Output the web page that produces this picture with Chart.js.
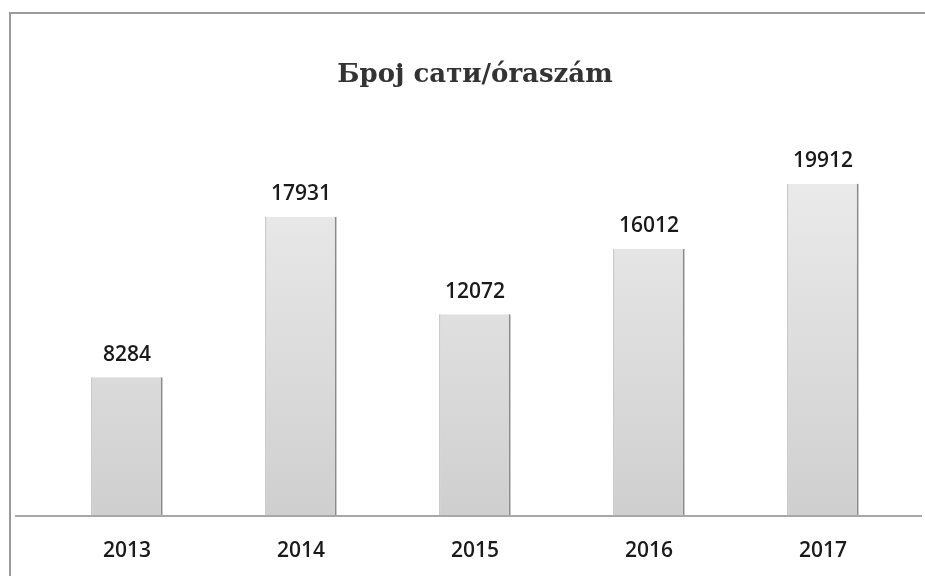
<!DOCTYPE html>
<html>
<head>
<meta charset="utf-8">
<script src="https://cdn.jsdelivr.net/npm/chart.js@4"></script>
<style>
  html, body { margin: 0; padding: 0; background: #fff; }
  #wrap { width: 925px; height: 576px; }
</style>
</head>
<body>
<div id="wrap"><canvas id="myChart"></canvas></div>
<script>
const years = ["2013", "2014", "2015", "2016", "2017"];
const hours = [8284, 17931, 12072, 16012, 19912];
const chartTitle = "Број сати/óraszám";

// labels over bars + long base line + scanned frame
const extras = {
    id: "extras",
    beforeDraw(chart) {
        const ctx = chart.ctx;
        ctx.save();
        ctx.fillStyle = "#fff";
        ctx.fillRect(0, 0, chart.width, chart.height);
        ctx.strokeStyle = "#9a9a9a";
        ctx.lineWidth = 2;
        ctx.beginPath();
        ctx.moveTo(10, 576);
        ctx.lineTo(10, 13);
        ctx.lineTo(925, 13);
        ctx.stroke();
        ctx.restore();
    },
    afterDatasetsDraw(chart) {
        const ctx = chart.ctx;
        const y0 = chart.scales.y.getPixelForValue(0);
        ctx.save();
        ctx.strokeStyle = "#a8a8a8";
        ctx.lineWidth = 2;
        ctx.beginPath();
        ctx.moveTo(15, y0 + 1);
        ctx.lineTo(922, y0 + 1);
        ctx.stroke();
        ctx.fillStyle = "#1a1a1a";
        ctx.font = "600 21px 'Open Sans', sans-serif";
        ctx.textAlign = "center";
        ctx.textBaseline = "bottom";
        chart.getDatasetMeta(0).data.forEach((bar, i) => {
            ctx.fillText(hours[i], bar.x, bar.y - 12);
        });
        ctx.restore();
    }
};

function barFill(context) {
    const area = context.chart.chartArea;
    if (!area) return "#ddd";
    const g = context.chart.ctx.createLinearGradient(0, area.top, 0, area.bottom);
    g.addColorStop(0, "#f1f1f1");
    g.addColorStop(1, "#cfcfcf");
    return g;
}

new Chart("myChart", {
    type: "bar",
    data: {
        labels: years,
        datasets: [{
            data: hours,
            backgroundColor: barFill,
            borderColor: "#8a8a8a",
            borderWidth: { left: 1, right: 2, top: 0, bottom: 0 },
            borderSkipped: false,
            barPercentage: 0.41,
            categoryPercentage: 1
        }]
    },
    options: {
        responsive: true,
        maintainAspectRatio: false,
        animation: false,
        layout: { padding: { left: 40, right: 15, top: 0, bottom: 0 } },
        plugins: {
            legend: { display: false },
            tooltip: { enabled: false },
            title: {
                display: true,
                text: chartTitle,
                color: "#333",
                font: { family: "'DejaVu Serif', serif", size: 26, weight: "bold" },
                padding: { top: 60, bottom: 8 }
            }
        },
        scales: {
            x: {
                grid: { display: false },
                border: { display: false },
                ticks: {
                    color: "#1a1a1a",
                    padding: 15,
                    font: { family: "'Open Sans', sans-serif", size: 21, weight: "600" }
                },
                afterFit(scale) { scale.height = 61; }
            },
            y: {
                display: false,
                min: 0,
                max: 25000
            }
        }
    },
    plugins: [extras]
});
</script>
</body>
</html>
